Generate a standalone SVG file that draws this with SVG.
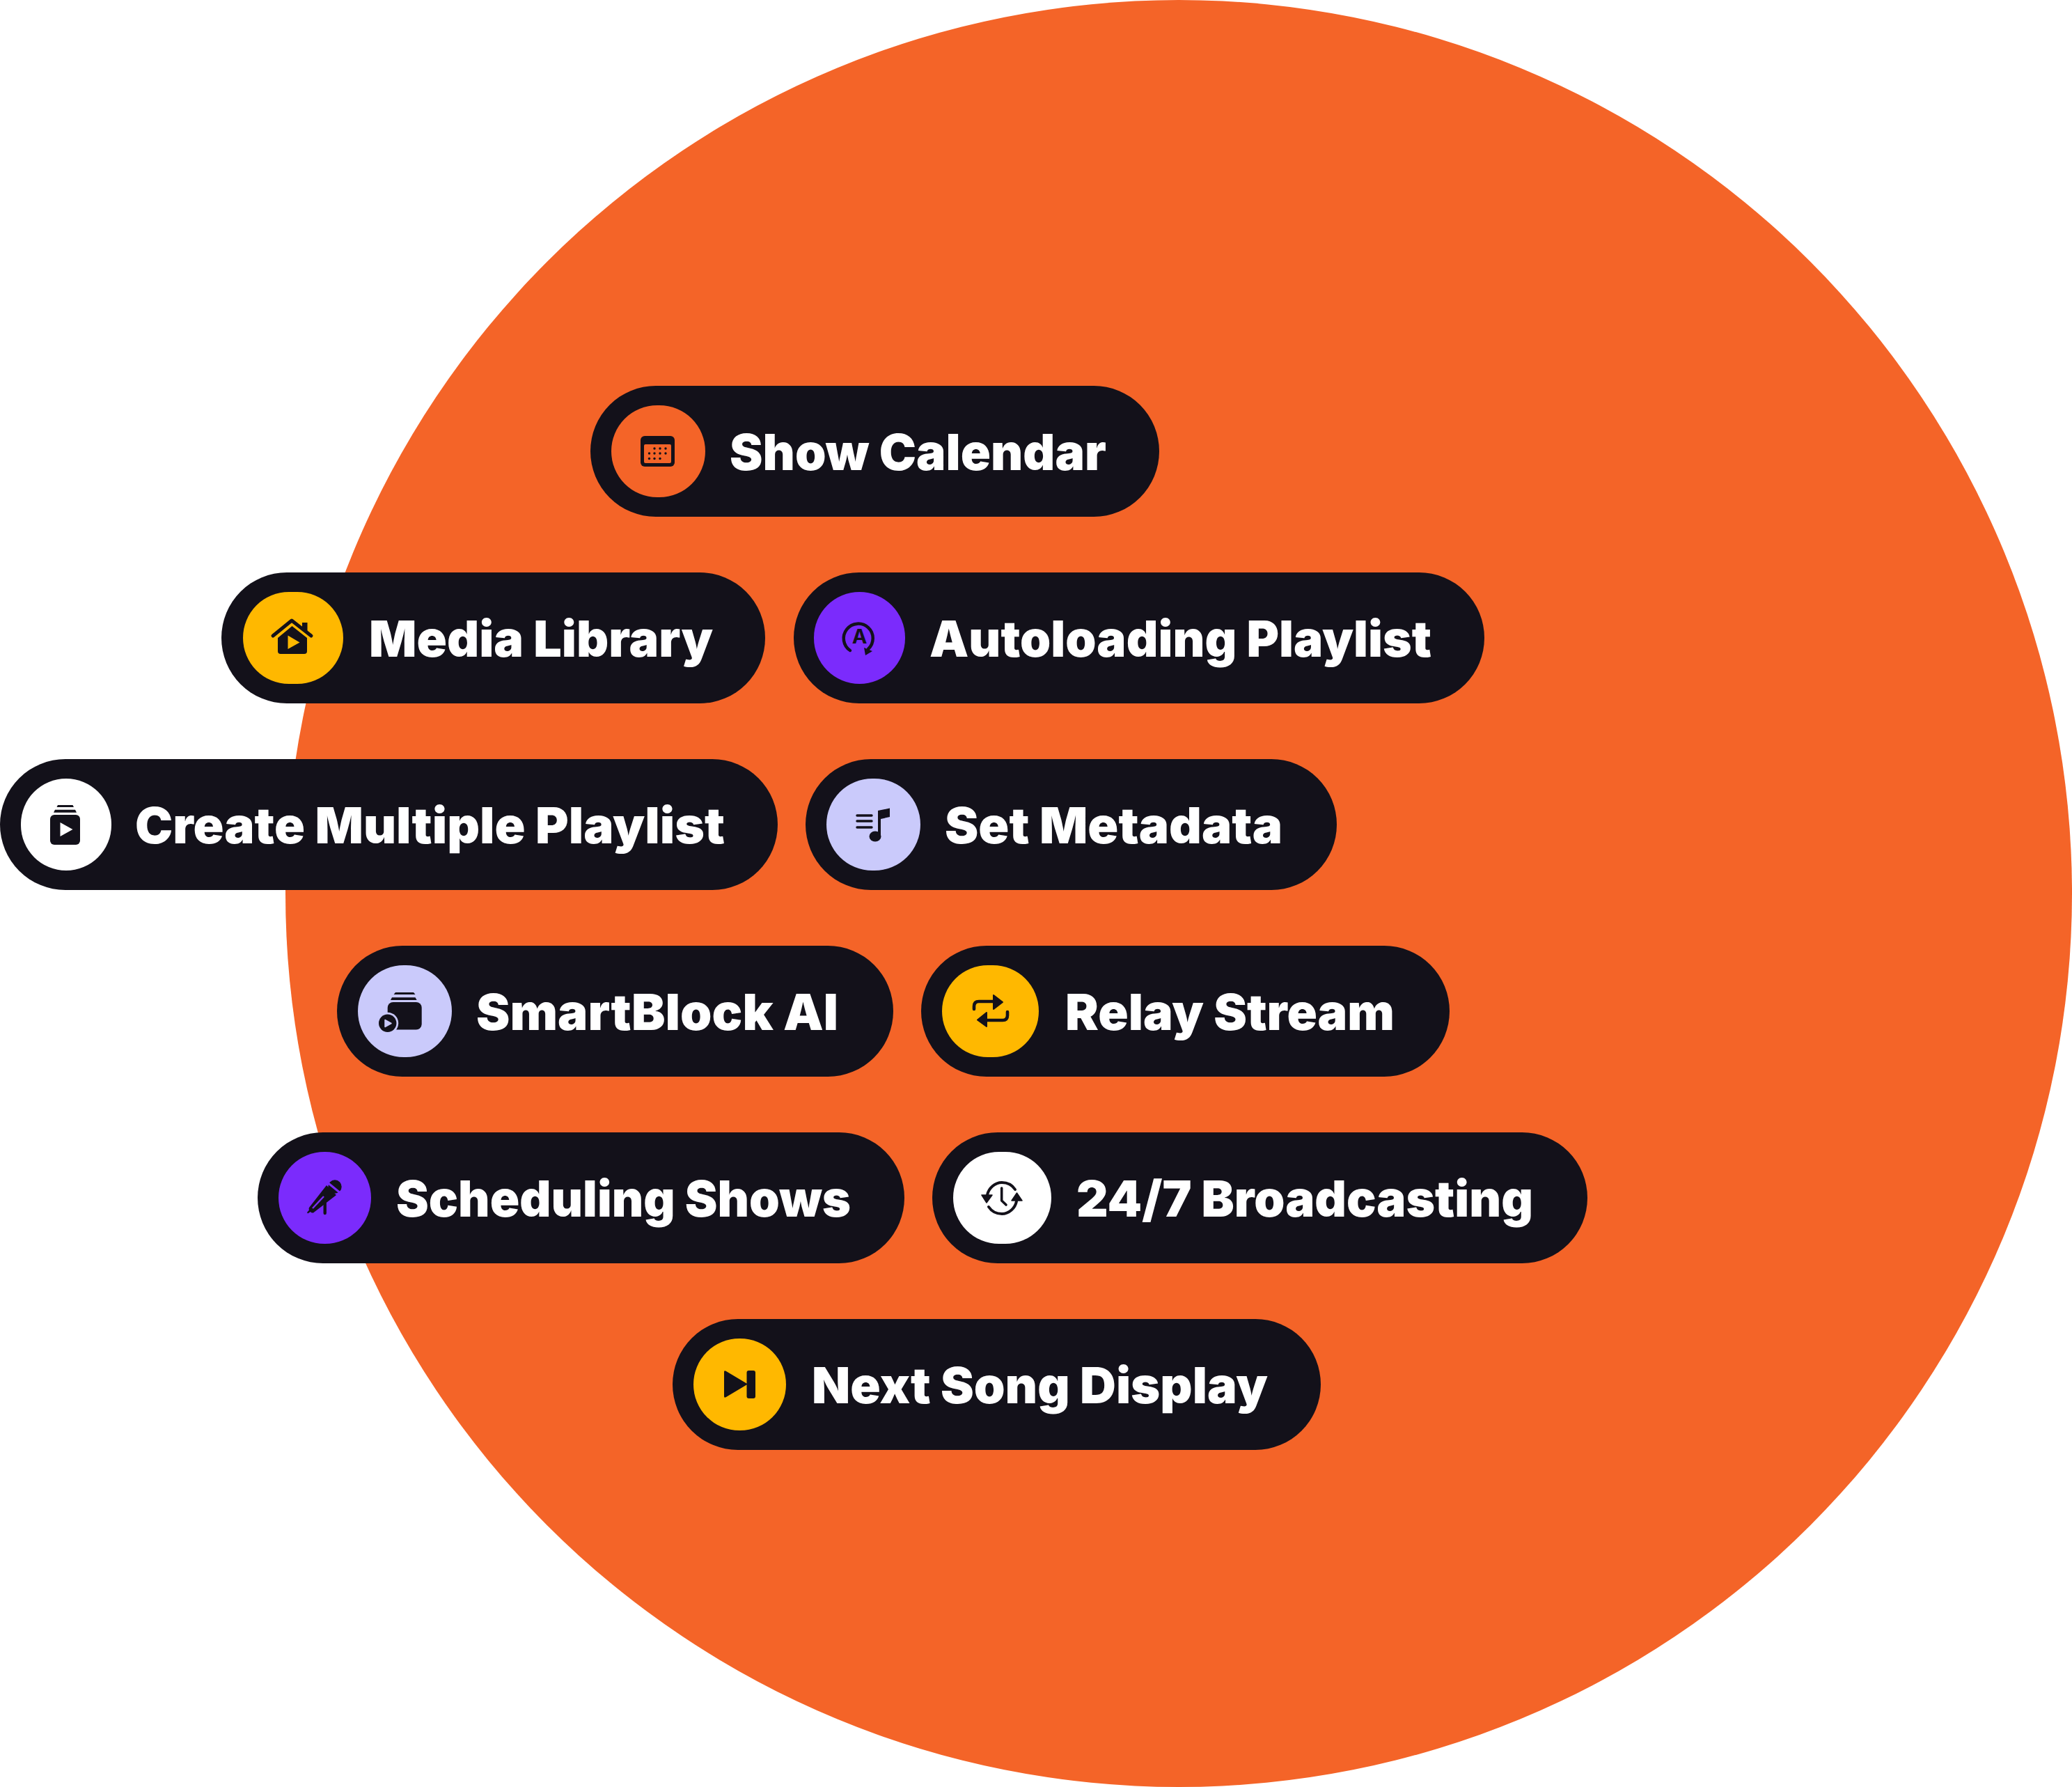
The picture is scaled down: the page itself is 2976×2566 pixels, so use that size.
<svg xmlns="http://www.w3.org/2000/svg" width="2976" height="2566" viewBox="0 0 2976 2566">
<style>
.pill{fill:#13111a}
.lbl{font-family:"Inter","Liberation Sans",sans-serif;font-weight:900;font-size:72px;fill:#fff}
.k{fill:#13111a}
.s{fill:none;stroke:#13111a;stroke-linecap:round;stroke-linejoin:round}
</style>
<rect width="2976" height="2566" fill="#fff"/>
<circle id="backdrop" cx="1693" cy="1283" r="1283" fill="#f46428"/>
<g id="connectors"/>
<g id="show-calendar">
<rect class="pill" x="848" y="554" width="817" height="188" rx="94"/>
<rect x="878" y="582" width="135" height="132" rx="66" fill="#f46428"/>
<rect class="k" x="920" y="626" width="49" height="44" rx="6"/>
<rect x="925" y="638" width="39" height="27" rx="2" fill="#f46428"/>
<g class="k"><circle cx="940" cy="644" r="1.7"/><circle cx="948" cy="644" r="1.7"/><circle cx="956" cy="644" r="1.7"/><circle cx="932.5" cy="651" r="1.7"/><circle cx="940" cy="651" r="1.7"/><circle cx="948" cy="651" r="1.7"/><circle cx="956" cy="651" r="1.7"/><circle cx="932.5" cy="658.5" r="1.7"/><circle cx="940" cy="658.5" r="1.7"/><circle cx="948" cy="658.5" r="1.7"/></g>
<text class="lbl" x="1048" y="675" textLength="541" lengthAdjust="spacingAndGlyphs">Show Calendar</text>
</g>
<g id="media-library">
<rect class="pill" x="318" y="822" width="781" height="188" rx="94"/>
<rect x="349" y="850" width="144" height="132" rx="66" fill="#ffb800"/>
<path class="s" stroke-width="5" d="M392 913L419 891L447 913"/>
<rect class="k" x="434" y="894" width="7.5" height="12"/>
<path class="k" d="M419.5 899L441 916V935Q441 939 437 939H403Q399 939 399 935V916Z"/>
<path d="M413.5 912.5L430.5 922.5L413.5 932Z" fill="#ffb800"/>
<text class="lbl" x="530" y="943" textLength="494" lengthAdjust="spacingAndGlyphs">Media Library</text>
</g>
<g id="autoloading-playlist">
<rect class="pill" x="1140" y="822" width="992" height="188" rx="94"/>
<rect x="1169" y="850" width="131" height="132" rx="65.5" fill="#7b2bfc"/>
<path class="s" stroke-width="4.5" d="M1221 934A21 21 0 1 1 1247 932"/>
<path class="k" d="M1241 930L1253 935L1243 941Z"/>
<text x="1234.5" y="924" text-anchor="middle" font-family="Inter,'Liberation Sans',sans-serif" font-weight="700" font-size="29" fill="#13111a">A</text>
<text class="lbl" x="1335" y="943" textLength="721" lengthAdjust="spacingAndGlyphs">Autoloading Playlist</text>
</g>
<g id="create-multiple-playlist">
<rect class="pill" x="0" y="1090" width="1117" height="188" rx="94"/>
<rect x="30" y="1118" width="130" height="132" rx="65" fill="#fff"/>
<rect class="k" x="72" y="1170" width="43" height="43" rx="6"/>
<path class="k" d="M81.5 1159L83 1156H104.5L106 1159ZM77 1166.7L79 1162.7H108L110 1166.7Z"/>
<path d="M86.5 1181L104.5 1191L86.5 1201Z" fill="#fff"/>
<text class="lbl" x="194" y="1211" textLength="847" lengthAdjust="spacingAndGlyphs">Create Multiple Playlist</text>
</g>
<g id="set-metadata">
<rect class="pill" x="1157" y="1090" width="763" height="188" rx="94"/>
<rect x="1187" y="1118" width="135" height="132" rx="66" fill="#cacafb"/>
<path class="s" stroke-width="3.4" d="M1231 1171H1252M1231 1179H1252M1231 1188H1252"/>
<path class="k" d="M1261 1164L1278 1160.5V1173L1265 1176V1201H1261Z"/>
<ellipse class="k" cx="1257" cy="1201" rx="8.5" ry="7.5"/>
<text class="lbl" x="1357" y="1211" textLength="485" lengthAdjust="spacingAndGlyphs">Set Metadata</text>
</g>
<g id="smartblock-ai">
<rect class="pill" x="484" y="1358" width="799" height="188" rx="94"/>
<rect x="514" y="1386" width="135" height="132" rx="66" fill="#cacafb"/>
<path class="k" d="M565.5 1428L568 1425H594L596.5 1428ZM561 1436L563 1432.3H596.5L598.6 1436Z"/>
<rect class="k" x="556.7" y="1439" width="49" height="39.5" rx="8"/>
<circle cx="556.7" cy="1469.3" r="15.5" fill="#cacafb"/>
<circle cx="556.7" cy="1469.3" r="12.7" class="k"/>
<path d="M553 1464.5L562 1469.5L553 1474.5Z" fill="#cacafb" stroke="#cacafb" stroke-width="1.5" stroke-linejoin="round"/>
<text class="lbl" x="684" y="1479" textLength="520" lengthAdjust="spacingAndGlyphs">SmartBlock AI</text>
</g>
<g id="relay-stream">
<rect class="pill" x="1323" y="1358" width="759" height="188" rx="94"/>
<rect x="1353" y="1386" width="139" height="132" rx="66" fill="#ffb800"/>
<path class="s" stroke-width="4.6" d="M1399 1449V1445Q1399 1438 1406 1438H1432M1447 1453V1458Q1447 1465 1440 1465H1414"/>
<path class="k" d="M1427 1429L1440 1439L1427 1449ZM1417 1454L1404 1464.5L1417 1474Z" stroke="#13111a" stroke-width="2" stroke-linejoin="round"/>
<text class="lbl" x="1530" y="1479" textLength="473" lengthAdjust="spacingAndGlyphs">Relay Stream</text>
</g>
<g id="scheduling-shows">
<rect class="pill" x="370" y="1626" width="929" height="188" rx="94"/>
<rect x="400" y="1654" width="133" height="132" rx="66" fill="#7b2bfc"/>
<circle class="k" cx="481" cy="1704" r="9.7"/>
<path class="k" d="M469 1702L483 1716L450 1741.5Q447 1742 446 1740L442 1742.5L441 1741L444 1737.5Q443 1736 444 1734Z"/>
<path d="M471 1698.5L487.5 1712" stroke="#7b2bfc" stroke-width="3" fill="none"/>
<path d="M465 1718L449 1735" stroke="#7b2bfc" stroke-width="2.4" fill="none"/>
<path class="s" stroke-width="4.4" d="M466.7 1724V1742"/>
<text class="lbl" x="569" y="1747" textLength="653" lengthAdjust="spacingAndGlyphs">Scheduling Shows</text>
</g>
<g id="broadcasting">
<rect class="pill" x="1339" y="1626" width="941" height="188" rx="94"/>
<rect x="1369" y="1654" width="141" height="132" rx="66" fill="#fff"/>
<path class="s" stroke-width="4" d="M1418 1716C1420 1706 1429 1698 1439 1698C1447 1698 1454 1702 1458 1708M1460 1725C1458 1735 1449 1743 1439 1743C1431 1743 1424 1739 1420 1733"/>
<path class="k" d="M1410 1716H1425L1417 1727ZM1453 1724H1468L1460.5 1713Z" stroke="#13111a" stroke-width="1.5" stroke-linejoin="round"/>
<path class="s" stroke-width="3.6" d="M1438.7 1706V1724L1445 1730"/>
<text class="lbl" x="1546" y="1747" textLength="656" lengthAdjust="spacingAndGlyphs">24/7 Broadcasting</text>
</g>
<g id="next-song-display">
<rect class="pill" x="966" y="1894" width="931" height="188" rx="94"/>
<rect x="996" y="1922" width="133" height="132" rx="66" fill="#ffb800"/>
<path class="k" d="M1040 1970Q1040 1967 1043 1969L1074 1987.5L1043 2006Q1040 2008 1040 2005Z"/>
<rect class="k" x="1072.5" y="1968" width="12.5" height="40" rx="3"/>
<text class="lbl" x="1166" y="2015" textLength="655" lengthAdjust="spacingAndGlyphs">Next Song Display</text>
</g>
</svg>
